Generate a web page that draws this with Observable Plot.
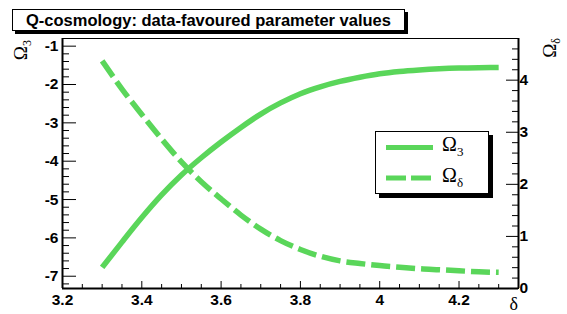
<!DOCTYPE html>
<html><head><meta charset="utf-8">
<script src="https://cdn.jsdelivr.net/npm/d3@7"></script>
<script src="https://cdn.jsdelivr.net/npm/@observablehq/plot@0.6"></script>
<style>
body{margin:0;background:#fff;}
#wrap{position:relative;width:567px;height:314px;overflow:hidden;background:#fff;}
#wrap svg.p{position:absolute;left:0;top:0;}
#title{position:absolute;left:12px;top:9px;width:391px;height:20px;border:1px solid #000;background:#fff;box-shadow:3px 3px 0 #000;font:bold 16.5px "Liberation Sans",Arial,sans-serif;text-align:center;line-height:20px;white-space:nowrap;color:#000;}
#legend{position:absolute;left:375px;top:131px;}
</style></head><body>
<div id="wrap"></div>
<script>
// ---- data ----
const delta      = [3.30, 3.35, 3.40, 3.45, 3.50, 3.55, 3.60, 3.65, 3.70, 3.75, 3.80, 3.85, 3.90, 3.95, 4.00, 4.05, 4.10, 4.15, 4.20, 4.25, 4.30];
const omega3     = [-6.77, -6.11, -5.47, -4.88, -4.36, -3.91, -3.50, -3.12, -2.77, -2.48, -2.24, -2.06, -1.92, -1.81, -1.72, -1.66, -1.62, -1.59, -1.57, -1.56, -1.555];
const omegaDelta = [4.37, 3.83, 3.34, 2.87, 2.43, 2.05, 1.72, 1.41, 1.14, 0.92, 0.75, 0.62, 0.53, 0.48, 0.44, 0.41, 0.38, 0.36, 0.34, 0.32, 0.31];

const xDomain = [3.2, 4.35];
const yLeftDomain = [-7.32, -0.8];
const yRightDomain = [0, 4.8];

const xTicks = [3.2, 3.4, 3.6, 3.8, 4.0, 4.2];
const xTickLabels = ["3.2", "3.4", "3.6", "3.8", "4", "4.2"];
const yLeftTicks = [-7, -6, -5, -4, -3, -2, -1];
const yLeftTickLabels = ["-7", "-6", "-5", "-4", "-3", "-2", "-1"];
const yRightTicks = [0, 1, 2, 3, 4];
const yRightTickLabels = ["0", "1", "2", "3", "4"];

const titleText = "Q-cosmology: data-favoured parameter values";
const seriesLabels = ["3", "δ"]; // subscripts of Ω
const xTitle = "δ";

const green = "#5ad65a";

// ---- helpers ----
const rows = delta.map((d, i) => ({d, o3: omega3[i], od: omegaDelta[i]}));
const r3 = v => Math.round(v * 1000) / 1000;
const mapOf = (t, l) => new Map(t.map((v, i) => [r3(v), l[i]]));
const xLab = mapOf(xTicks, xTickLabels);
const yLLab = mapOf(yLeftTicks, yLeftTickLabels);
const yRLab = mapOf(yRightTicks, yRightTickLabels);
function minor(lo, hi, step, majors) {
  const ms = new Set(majors.map(r3));
  const out = [];
  for (let k = Math.ceil(lo / step - 1e-9); k * step <= hi + 1e-9; k++) {
    const v = r3(k * step);
    if (!ms.has(v)) out.push(v);
  }
  return out;
}
const xMinor = minor(xDomain[0], xDomain[1], 0.05, xTicks);
const yLMinor = minor(yLeftDomain[0], yLeftDomain[1], 0.2, yLeftTicks);
const yRMinor = minor(yRightDomain[0], yRightDomain[1], 0.2, yRightTicks);

const common = {
  width: 567, height: 314,
  marginTop: 38, marginBottom: 26, marginLeft: 62, marginRight: 49,
  style: {fontFamily: '"Liberation Sans", Arial, sans-serif', fontSize: "15.5px", fontWeight: "bold", color: "#000", background: "transparent", overflow: "visible"}
};

const p1 = Plot.plot({
  ...common,
  x: {domain: xDomain},
  y: {domain: yLeftDomain},
  marks: [
    Plot.frame({stroke: "#000", strokeWidth: 1}),
    Plot.ruleX([xDomain[0]], {stroke: "#000", strokeWidth: 2}),
    Plot.ruleY([yLeftDomain[0]], {stroke: "#000", strokeWidth: 2}),
    Plot.axisX(xMinor, {anchor: "bottom", tickSize: -4, tickFormat: () => "", label: null}),
    Plot.axisX(xTicks, {anchor: "bottom", tickSize: -7, tickPadding: 12, tickFormat: d => xLab.get(r3(d)), label: null}),
    Plot.axisY(yLMinor, {anchor: "left", tickSize: -7, tickFormat: () => "", label: null}),
    Plot.axisY(yLeftTicks, {anchor: "left", tickSize: -14, tickPadding: 18, tickFormat: d => yLLab.get(r3(d)), label: null}),
    Plot.line(rows, {x: "d", y: "o3", stroke: green, strokeWidth: 5.5, strokeLinecap: "butt", curve: "monotone-x"})
  ]
});

const p2 = Plot.plot({
  ...common,
  x: {domain: xDomain, axis: null},
  y: {domain: yRightDomain},
  marks: [
    Plot.ruleX([xDomain[1]], {stroke: "#000", strokeWidth: 2}),
    Plot.axisY(yRMinor, {anchor: "right", tickSize: -7, tickFormat: () => "", label: null}),
    Plot.axisY(yRightTicks, {anchor: "right", tickSize: -13, tickPadding: 14, tickFormat: d => yRLab.get(r3(d)), label: null}),
    Plot.line(rows, {x: "d", y: "od", stroke: green, strokeWidth: 5.5, strokeDasharray: "19,6", strokeLinecap: "butt", curve: "monotone-x"})
  ]
});

p1.classList.add("p");
p2.classList.add("p");
const wrap = document.getElementById("wrap");
wrap.appendChild(p1);
wrap.appendChild(p2);

// axis titles
const serif = '"Liberation Serif", "Times New Roman", serif';
function omegaTitle(svg, x, y, sub) {
  const t = d3.select(svg).append("text")
    .attr("transform", `translate(${x},${y}) rotate(-90)`)
    .attr("text-anchor", "end")
    .style("font-family", serif).style("font-weight", "normal").style("font-size", "19px")
    .attr("fill", "#000");
  t.append("tspan").text("Ω");
  t.append("tspan").attr("dy", 4).style("font-size", "12px").text(sub);
}
omegaTitle(p1, 27, 40, seriesLabels[0]);
omegaTitle(p2, 556, 38, seriesLabels[1]);
d3.select(p1).append("text")
  .attr("x", 518).attr("y", 310).attr("text-anchor", "end")
  .style("font-family", serif).style("font-weight", "normal").style("font-size", "18px")
  .attr("fill", "#000").text(xTitle);

// title box
const title = document.createElement("div");
title.id = "title";
title.textContent = titleText;
wrap.appendChild(title);

// legend
const lg = d3.select(wrap).append("svg").attr("id", "legend").attr("width", 120).attr("height", 70);
lg.append("rect").attr("x", 4).attr("y", 4).attr("width", 114).attr("height", 63).attr("fill", "#000");
lg.append("rect").attr("x", 0.5).attr("y", 0.5).attr("width", 113).attr("height", 62).attr("fill", "#fff").attr("stroke", "#000");
const items = [{dash: null, y: 16.5, ty: 19.5}, {dash: "20,5", y: 47, ty: 51}];
items.forEach((it, i) => {
  lg.append("line").attr("x1", 11).attr("x2", 58).attr("y1", it.y).attr("y2", it.y)
    .attr("stroke", green).attr("stroke-width", 5).attr("stroke-dasharray", it.dash);
  const t = lg.append("text").attr("x", 67).attr("y", it.ty)
    .style("font-family", serif).style("font-size", "20px").attr("fill", "#000");
  t.append("tspan").text("Ω");
  t.append("tspan").attr("dy", 5).style("font-size", "13px").text(seriesLabels[i]);
});
</script>
</body></html>
